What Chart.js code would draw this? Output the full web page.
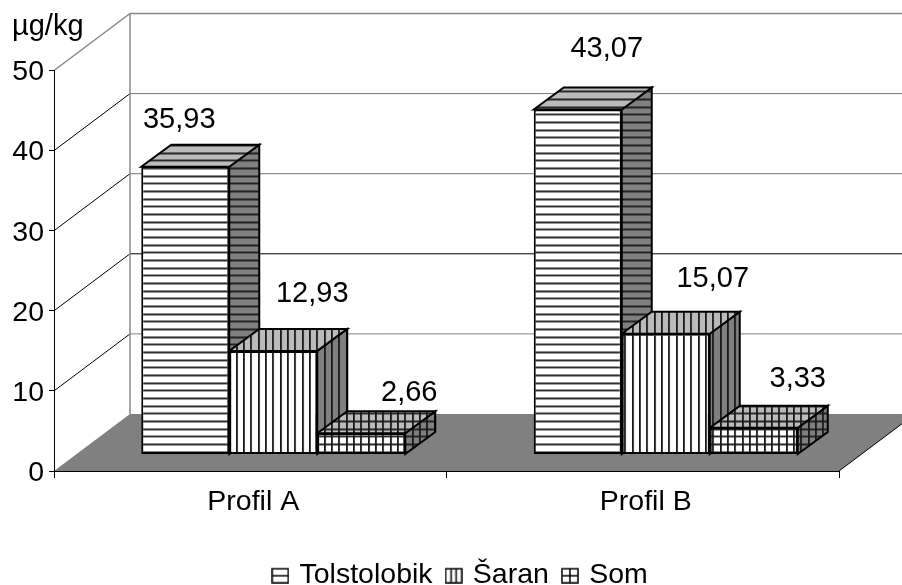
<!DOCTYPE html>
<html>
<head>
<meta charset="utf-8">
<style>
  html, body { margin: 0; padding: 0; background: #fff; }
  canvas { display: block; }
</style>
<script src="https://cdn.jsdelivr.net/npm/chart.js@4/dist/chart.umd.min.js"></script>
</head>
<body>
<canvas id="myChart" width="902" height="585"></canvas>
<script>
const kategorije = ['Profil A', 'Profil B'];
const serije = ['Tolstolobik', 'Šaran', 'Som'];
const tolstolobik = [35.93, 43.07];
const saran = [12.93, 15.07];
const som = [2.66, 3.33];
const jedinica = 'µg/kg';

// 3d look of the old spreadsheet chart, in pixels
const dubinaZid = { x: 76, y: 57 };
const pomakBar = { x: 23, y: 16.5 };
const dubinaBar = { x: 30, y: 22 };
const bojaLinijaZid = ['#000', '#808080', '#000', '#777', '#777', '#888'];
// where each value label sits relative to the bar top centre, per series then category
const pomakLabela = [[[-6, -47], [29, -61]], [[39, -57], [47, -55]], [[48, -40], [44, -49]]];

const FONT = 'Liberation Sans, Arial, sans-serif';

function napraviUzorak(vrsta, pozadina) {
    const c = document.createElement('canvas');
    c.width = 22; c.height = 23;
    const g = c.getContext('2d');
    g.fillStyle = pozadina;
    g.fillRect(0, 0, 22, 23);
    g.fillStyle = '#1a1a1a';
    if (vrsta !== 'v') {
        for (const y of [0, 8, 15]) g.fillRect(0, y, 22, 1.8);
    }
    if (vrsta !== 'h') {
        for (const x of [0, 7, 15]) g.fillRect(x, 0, 1.8, 23);
    }
    return g.createPattern(c, 'repeat');
}

function napraviZnak(vrsta) {
    const c = document.createElement('canvas');
    c.width = 18; c.height = 17;
    const g = c.getContext('2d');
    g.strokeStyle = '#000';
    g.lineWidth = 1.5;
    g.strokeRect(1, 2, 16, 14);
    g.beginPath();
    if (vrsta !== 'v') { g.moveTo(1, 9); g.lineTo(17, 9); }
    if (vrsta === 'v') { g.moveTo(6.5, 2); g.lineTo(6.5, 16); g.moveTo(11.5, 2); g.lineTo(11.5, 16); }
    if (vrsta === 'g') { g.moveTo(9, 2); g.lineTo(9, 16); }
    g.stroke();
    return c;
}

const vrste = ['h', 'v', 'g'];
const uzorciPrednji = vrste.map(v => napraviUzorak(v, '#ffffff'));
const uzorciGore = vrste.map(v => napraviUzorak(v, '#bbbbbb'));
const uzorciBok = vrste.map(v => napraviUzorak(v, '#808080'));
const znakovi = vrste.map(napraviZnak);

function poligon(ctx, tacke, fill, stroke, lw) {
    ctx.beginPath();
    tacke.forEach((p, i) => i ? ctx.lineTo(p[0], p[1]) : ctx.moveTo(p[0], p[1]));
    ctx.closePath();
    if (fill) { ctx.fillStyle = fill; ctx.fill(); }
    if (stroke) { ctx.strokeStyle = stroke; ctx.lineWidth = lw; ctx.stroke(); }
}

const kutija3d = {
    id: 'kutija3d',
    beforeDraw(chart) {
        const ctx = chart.ctx;
        const a = chart.chartArea;
        const yS = chart.scales.y;
        const xZid = a.left + dubinaZid.x;

        // legend sits off centre and lower than the library would put it
        chart.legend.left = 21;
        chart.legend.right = 902;
        chart.legend.top = pozicijaLegende;

        ctx.save();
        // floor
        poligon(ctx, [[a.left, a.bottom], [xZid, a.bottom - dubinaZid.y],
            [a.right + dubinaZid.x, a.bottom - dubinaZid.y], [a.right, a.bottom]], '#808080');
        // grid on side wall and back wall
        yS.ticks.forEach((t, i) => {
            const y = yS.getPixelForValue(t.value);
            if (t.value > 0) {
                ctx.strokeStyle = t.value === 50 ? '#888' : '#000';
                ctx.lineWidth = t.value === 50 ? 1.5 : 1;
                ctx.beginPath();
                ctx.moveTo(a.left, y);
                ctx.lineTo(xZid, y - dubinaZid.y);
                ctx.stroke();
                ctx.strokeStyle = bojaLinijaZid[i];
                ctx.lineWidth = t.value === 50 ? 1.5 : 1;
                ctx.beginPath();
                ctx.moveTo(xZid, y - dubinaZid.y);
                ctx.lineTo(902, y - dubinaZid.y);
                ctx.stroke();
            }
        });
        ctx.strokeStyle = '#888';
        ctx.lineWidth = 1.5;
        ctx.beginPath();
        ctx.moveTo(xZid, a.top - dubinaZid.y);
        ctx.lineTo(xZid, a.bottom - dubinaZid.y);
        ctx.stroke();
        // right edge of the floor
        ctx.strokeStyle = '#000';
        ctx.lineWidth = 1;
        ctx.beginPath();
        ctx.moveTo(a.right, a.bottom);
        ctx.lineTo(a.right + dubinaZid.x, a.bottom - dubinaZid.y);
        ctx.stroke();
        ctx.restore();
    },
    beforeDatasetsDraw(chart) {
        const ctx = chart.ctx;
        ctx.save();
        ctx.translate(pomakBar.x, -pomakBar.y);
        // side and top faces first, left to right; library draws the fronts over them
        chart.data.datasets.forEach((ds, i) => {
            chart.getDatasetMeta(i).data.forEach(bar => {
                const l = bar.x - bar.width / 2, r = bar.x + bar.width / 2;
                const t = bar.y, b = bar.base;
                const dx = dubinaBar.x, dy = dubinaBar.y;
                ctx.lineJoin = 'miter';
                poligon(ctx, [[r, t], [r + dx, t - dy], [r + dx, b - dy], [r, b]], uzorciBok[i], '#000', 2);
                poligon(ctx, [[l, t], [l + dx, t - dy], [r + dx, t - dy], [r, t]], uzorciGore[i], '#000', 2);
            });
        });
    },
    afterDatasetsDraw(chart) {
        const ctx = chart.ctx;
        ctx.restore();
        ctx.save();
        ctx.font = '29px ' + FONT;
        ctx.fillStyle = '#000';
        ctx.textAlign = 'center';
        ctx.textBaseline = 'middle';
        chart.data.datasets.forEach((ds, i) => {
            chart.getDatasetMeta(i).data.forEach((bar, j) => {
                const tekst = ds.data[j].toFixed(2).replace('.', ',');
                const p = pomakLabela[i][j];
                ctx.fillText(tekst, bar.x + pomakBar.x + p[0], bar.y - pomakBar.y + p[1]);
            });
        });
        ctx.restore();
    }
};

const vrijednosti = [tolstolobik, saran, som];
const pozicijaLegende = 545;

const ctx = document.getElementById('myChart').getContext('2d');
const myChart = new Chart(ctx, {
    type: 'bar',
    data: {
        labels: kategorije,
        datasets: serije.map((s, i) => ({
            label: s,
            data: vrijednosti[i],
            backgroundColor: uzorciPrednji[i],
            borderColor: '#000',
            borderWidth: 2,
            borderSkipped: false,
            barPercentage: 1,
            categoryPercentage: 0.6726
        }))
    },
    plugins: [kutija3d],
    options: {
        responsive: false,
        animation: false,
        events: [],
        layout: { padding: { left: 12, right: 63, top: 0, bottom: 0 } },
        scales: {
            x: {
                afterFit(s) { s.height = 59.5; },
                grid: { drawOnChartArea: false, color: '#000', tickLength: 7 },
                border: { color: '#000', width: 1 },
                ticks: { color: '#000', font: { family: FONT, size: 28.5 }, padding: 7, labelOffset: 3, maxRotation: 0 }
            },
            y: {
                min: 0,
                max: 50,
                afterFit(s) { s.width = 42; },
                grid: { drawOnChartArea: false, color: '#000', tickLength: 5 },
                border: { color: '#000', width: 1 },
                ticks: { color: '#000', stepSize: 10, font: { family: FONT, size: 28.5 }, padding: 5, labelOffset: 2 }
            }
        },
        plugins: {
            tooltip: { enabled: false },
            title: {
                display: true,
                text: jedinica,
                align: 'start',
                color: '#000',
                font: { family: FONT, size: 29, weight: 'normal' },
                padding: { top: 9.5, bottom: 26.2 }
            },
            legend: {
                position: 'bottom',
                labels: {
                    usePointStyle: true,
                    boxWidth: 10,
                    color: '#000',
                    padding: 16,
                    font: { family: FONT, size: 28.5 },
                    generateLabels: chart => chart.data.datasets.map((d, i) => ({
                        text: d.label,
                        pointStyle: znakovi[i],
                        datasetIndex: i,
                        lineWidth: 0,
                        fontColor: '#000'
                    }))
                }
            }
        }
    }
});
</script>
</body>
</html>
